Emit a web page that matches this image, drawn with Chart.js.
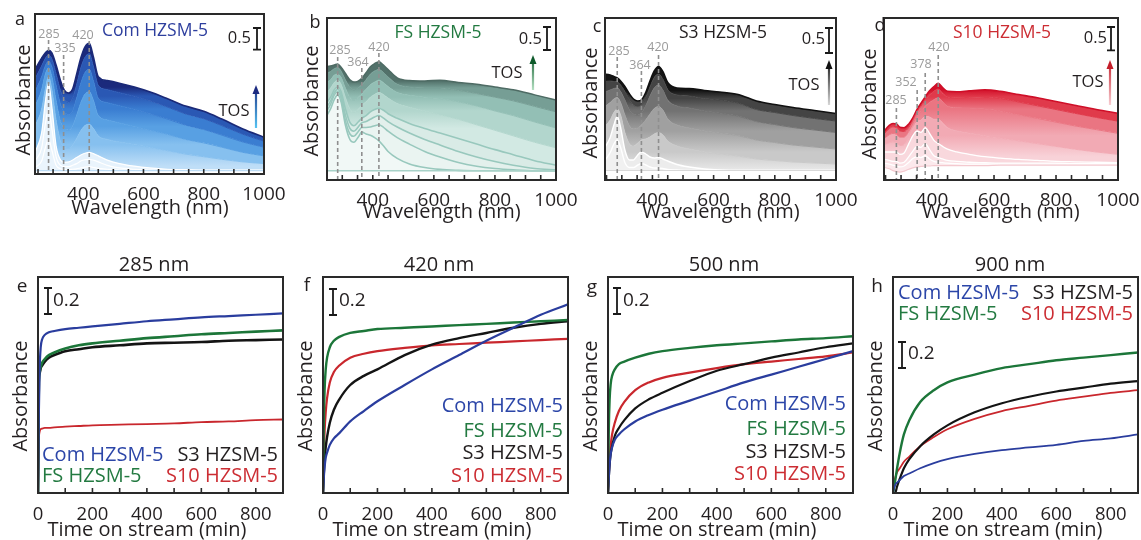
<!DOCTYPE html>
<html><head><meta charset="utf-8">
<script src="https://cdn.jsdelivr.net/npm/chart.js@4.4.1/dist/chart.umd.min.js"></script>
<style>
html,body{margin:0;padding:0;background:#fff;width:1141px;height:540px;overflow:hidden;position:relative}
canvas{position:absolute}
</style></head><body>
<script>
// ---------- DATA ----------
// Wavelength grid (nm) shared by the spectra of panels a-d
const WL = [240, 262, 274, 285, 296, 310, 325, 338, 352, 364, 378, 392, 406, 420, 434, 450, 480, 520, 570, 620, 680, 740, 800, 860, 930, 1000];
const WL_TICKS = [250, 300, 350, 400, 450, 500, 550, 600, 650, 700, 750, 800, 850, 900, 950, 1000];
const WL_LABELS = [400, 600, 800, 1000];

// a: Com HZSM-5 (spectra from early to late TOS)
const A_BASE = [0.08,0.08,0.08,0.08,0.08,0.08,0.08,0.08,0.08,0.08,0.08,0.08,0.08,0.08,0.08,0.08,0.08,0.08,0.08,0.08,0.08,0.08,0.08,0.08,0.08,0.08];
const A_E1 = [0.15,0.3,0.6,0.8,0.55,0.2,0.12,0.1,0.1,0.11,0.12,0.14,0.16,0.17,0.15,0.13,0.11,0.09,0.085,0.08,0.08,0.08,0.08,0.08,0.08,0.08];
const A_E2 = [0.3,0.6,1.15,1.5,1.05,0.4,0.2,0.17,0.17,0.2,0.24,0.3,0.33,0.34,0.32,0.28,0.2,0.14,0.11,0.09,0.085,0.085,0.085,0.085,0.085,0.085];
const A_E3 = [0.5,0.95,1.65,2.1,1.55,0.65,0.32,0.27,0.28,0.32,0.38,0.44,0.48,0.5,0.47,0.42,0.32,0.24,0.18,0.14,0.11,0.1,0.09,0.09,0.09,0.09];
const A_F1 = [1.1,1.5,1.95,2.25,1.95,1.25,0.75,0.62,0.6,0.66,0.82,1.0,1.12,1.15,1.05,0.88,0.8,0.74,0.68,0.62,0.54,0.46,0.4,0.34,0.28,0.24];
const A_F2 = [1.55,1.95,2.3,2.45,2.25,1.7,1.2,1.05,1.02,1.1,1.35,1.65,1.85,1.9,1.7,1.35,1.25,1.18,1.1,1.02,0.92,0.8,0.72,0.62,0.5,0.42];
const A_F3 = [1.9,2.25,2.5,2.6,2.48,2.05,1.6,1.42,1.38,1.45,1.75,2.1,2.35,2.42,2.15,1.75,1.65,1.58,1.5,1.4,1.27,1.13,1.03,0.9,0.74,0.62];
const A_F4 = [2.2,2.5,2.67,2.75,2.66,2.32,1.92,1.72,1.66,1.74,2.06,2.45,2.7,2.78,2.48,2.05,1.95,1.88,1.8,1.7,1.55,1.39,1.28,1.12,0.92,0.76];
const A_TOP = [2.42,2.68,2.8,2.86,2.8,2.52,2.15,1.93,1.87,1.95,2.3,2.68,2.94,3.02,2.7,2.25,2.16,2.1,2.01,1.9,1.74,1.57,1.45,1.27,1.04,0.85];

// b: FS HZSM-5
const B_BASE = [0.2,0.2,0.2,0.2,0.2,0.2,0.2,0.2,0.2,0.2,0.2,0.2,0.2,0.2,0.2,0.2,0.2,0.2,0.2,0.2,0.2,0.2,0.2,0.2,0.2,0.2];
const B_L1 = [1.3,1.55,1.75,1.85,1.7,1.2,0.88,0.82,0.93,1.04,1.0,0.97,0.92,0.85,0.75,0.62,0.47,0.35,0.27,0.23,0.21,0.2,0.2,0.2,0.2,0.2];
const B_L2 = [1.4,1.65,1.85,1.92,1.78,1.3,1.0,0.95,1.05,1.14,1.14,1.15,1.18,1.2,1.15,1.06,0.92,0.78,0.62,0.5,0.38,0.3,0.25,0.22,0.2,0.2];
const B_L3 = [1.5,1.72,1.9,1.97,1.85,1.42,1.12,1.06,1.15,1.24,1.27,1.32,1.37,1.4,1.35,1.27,1.15,1.02,0.88,0.76,0.62,0.5,0.4,0.32,0.25,0.22];
const B_L4 = [1.6,1.8,1.96,2.02,1.92,1.55,1.25,1.18,1.26,1.34,1.4,1.48,1.53,1.56,1.52,1.44,1.34,1.23,1.12,1.02,0.9,0.78,0.66,0.55,0.42,0.32];
const B_F1 = [1.85,2.0,2.12,2.17,2.08,1.8,1.55,1.48,1.54,1.62,1.7,1.8,1.86,1.9,1.86,1.78,1.66,1.58,1.5,1.42,1.32,1.2,1.08,0.96,0.82,0.7];
const B_F2 = [2.1,2.18,2.28,2.3,2.23,2.0,1.8,1.74,1.8,1.87,1.97,2.07,2.13,2.17,2.12,2.03,1.9,1.84,1.8,1.77,1.7,1.61,1.5,1.4,1.26,1.13];
const B_F3 = [2.3,2.36,2.42,2.44,2.37,2.18,2.02,1.96,2.0,2.07,2.18,2.3,2.37,2.4,2.34,2.24,2.08,2.02,2.0,2.0,1.95,1.88,1.8,1.72,1.6,1.48];
const B_TOP = [2.46,2.48,2.5,2.52,2.45,2.32,2.18,2.13,2.15,2.21,2.33,2.46,2.53,2.57,2.5,2.4,2.22,2.16,2.15,2.17,2.12,2.08,2.02,1.96,1.85,1.74];

// c: S3 HZSM-5
const C_BASE = [0.19,0.19,0.19,0.19,0.19,0.19,0.19,0.19,0.19,0.19,0.19,0.19,0.19,0.19,0.19,0.19,0.19,0.19,0.19,0.19,0.19,0.19,0.19,0.19,0.19,0.19];
const C_E1 = [0.35,0.55,0.72,0.8,0.65,0.35,0.25,0.25,0.3,0.33,0.3,0.26,0.24,0.24,0.23,0.21,0.2,0.19,0.19,0.19,0.19,0.19,0.19,0.19,0.19,0.19];
const C_E2 = [0.6,0.85,1.1,1.27,1.05,0.6,0.4,0.4,0.5,0.56,0.52,0.46,0.44,0.45,0.42,0.38,0.31,0.26,0.22,0.2,0.19,0.19,0.19,0.19,0.19,0.19];
const C_F1 = [1.05,1.2,1.35,1.42,1.3,0.95,0.72,0.68,0.74,0.8,0.82,0.86,0.92,0.95,0.9,0.78,0.68,0.62,0.56,0.52,0.48,0.42,0.39,0.36,0.34,0.32];
const C_F2 = [1.45,1.55,1.62,1.65,1.55,1.3,1.08,1.02,1.04,1.1,1.2,1.32,1.43,1.47,1.4,1.22,1.1,1.04,0.98,0.94,0.89,0.8,0.75,0.7,0.66,0.62];
const C_F3 = [1.75,1.8,1.83,1.84,1.77,1.6,1.4,1.32,1.3,1.34,1.48,1.68,1.84,1.9,1.8,1.6,1.48,1.44,1.38,1.34,1.28,1.17,1.11,1.05,1.0,0.95];
const C_F4 = [1.97,1.98,1.97,1.96,1.9,1.77,1.6,1.5,1.47,1.5,1.64,1.86,2.05,2.12,2.02,1.81,1.7,1.68,1.63,1.6,1.54,1.41,1.35,1.29,1.23,1.18];
const C_TOP = [2.12,2.1,2.07,2.04,1.98,1.87,1.72,1.62,1.58,1.6,1.75,1.98,2.18,2.27,2.17,1.95,1.84,1.83,1.79,1.76,1.71,1.58,1.51,1.45,1.39,1.33];

// d: S10 HZSM-5
const D_BASE = [0.28,0.24,0.2,0.18,0.17,0.19,0.23,0.26,0.28,0.29,0.3,0.3,0.31,0.31,0.31,0.31,0.31,0.31,0.31,0.32,0.32,0.32,0.32,0.32,0.32,0.32];
const D_E1 = [0.36,0.34,0.32,0.3,0.28,0.3,0.38,0.46,0.5,0.48,0.52,0.45,0.4,0.38,0.37,0.36,0.35,0.34,0.34,0.34,0.34,0.34,0.34,0.34,0.34,0.34];
const D_E2 = [0.45,0.42,0.4,0.4,0.36,0.38,0.5,0.62,0.72,0.7,0.78,0.65,0.52,0.48,0.45,0.42,0.4,0.38,0.37,0.36,0.36,0.36,0.36,0.35,0.35,0.35];
const D_E3 = [0.6,0.6,0.6,0.6,0.55,0.58,0.78,0.95,1.05,1.02,1.12,1.0,0.85,0.78,0.72,0.66,0.6,0.55,0.5,0.47,0.44,0.42,0.4,0.39,0.38,0.37];
const D_F1 = [0.75,0.8,0.82,0.8,0.74,0.76,0.92,1.1,1.25,1.28,1.36,1.35,1.3,1.3,1.22,1.12,1.05,1.0,0.95,0.9,0.84,0.78,0.72,0.66,0.6,0.55];
const D_F2 = [0.86,0.97,1.0,0.98,0.92,0.92,1.04,1.2,1.38,1.47,1.58,1.66,1.72,1.76,1.68,1.58,1.55,1.54,1.52,1.48,1.4,1.32,1.24,1.16,1.08,1.0];
const D_F3 = [0.95,1.1,1.14,1.12,1.05,1.04,1.13,1.28,1.47,1.58,1.71,1.82,1.9,1.95,1.86,1.78,1.76,1.77,1.78,1.75,1.67,1.59,1.51,1.43,1.34,1.26];
const D_TOP = [1.0,1.17,1.21,1.2,1.13,1.12,1.2,1.33,1.52,1.64,1.78,1.91,2.0,2.07,1.98,1.9,1.89,1.91,1.93,1.9,1.83,1.76,1.68,1.6,1.51,1.43];

// Time on stream (min) for panels e-h
const TOS = [0, 3, 6, 10, 15, 25, 40, 60, 100, 150, 200, 300, 400, 500, 600, 700, 800, 900];
const TOS_TICKS = [100, 200, 300, 400, 500, 600, 700, 800];
const TOS_LABELS = [0, 200, 400, 600, 800];
const SAMPLES = ['Com HZSM-5', 'FS HZSM-5', 'S3 HZSM-5', 'S10 HZSM-5'];

// e: 285 nm
const E_COM = [0,0.6,0.95,1.12,1.18,1.215,1.235,1.245,1.26,1.27,1.28,1.3,1.32,1.335,1.35,1.36,1.37,1.38];
const E_FS  = [0,0.85,0.93,0.97,1.0,1.03,1.06,1.08,1.11,1.135,1.15,1.17,1.19,1.205,1.22,1.23,1.24,1.25];
const E_S3  = [0,0.86,0.92,0.96,0.98,1.01,1.04,1.06,1.09,1.105,1.12,1.135,1.15,1.155,1.16,1.17,1.175,1.18];
const E_S10 = [0,0.4,0.47,0.49,0.495,0.5,0.5,0.505,0.51,0.515,0.52,0.525,0.53,0.535,0.545,0.55,0.56,0.565];
// f: 420 nm
const F_COM = [0,0.12,0.2,0.27,0.31,0.37,0.42,0.46,0.55,0.63,0.705,0.83,0.95,1.06,1.17,1.27,1.37,1.45];
const F_FS  = [0,0.55,0.8,0.95,1.04,1.12,1.17,1.2,1.23,1.245,1.26,1.27,1.28,1.29,1.3,1.31,1.32,1.33];
const F_S3  = [0,0.15,0.26,0.35,0.43,0.54,0.64,0.72,0.83,0.9,0.95,1.06,1.14,1.19,1.23,1.27,1.3,1.32];
const F_S10 = [0,0.3,0.48,0.62,0.73,0.85,0.93,0.98,1.04,1.07,1.09,1.115,1.135,1.145,1.155,1.165,1.175,1.185];
// g: 500 nm
const G_COM = [0,0.12,0.22,0.3,0.35,0.41,0.45,0.49,0.55,0.6,0.64,0.71,0.78,0.85,0.91,0.97,1.03,1.09];
const G_FS  = [0,0.5,0.72,0.84,0.9,0.95,0.99,1.01,1.04,1.07,1.09,1.115,1.135,1.15,1.165,1.18,1.19,1.205];
const G_S3  = [0,0.12,0.22,0.3,0.36,0.44,0.5,0.56,0.65,0.72,0.77,0.86,0.94,0.99,1.04,1.08,1.12,1.15];
const G_S10 = [0,0.15,0.27,0.37,0.45,0.54,0.63,0.7,0.79,0.85,0.885,0.925,0.96,0.99,1.01,1.03,1.05,1.08];
// h: 900 nm
const H_COM = [0,0.03,0.05,0.07,0.08,0.1,0.13,0.15,0.19,0.23,0.26,0.3,0.33,0.35,0.37,0.4,0.42,0.45];
const H_FS  = [0,0.03,0.07,0.12,0.19,0.31,0.45,0.56,0.7,0.79,0.85,0.91,0.96,0.99,1.02,1.04,1.06,1.08];
const H_S3  = [0,0,0,0.01,0.05,0.11,0.19,0.26,0.36,0.45,0.52,0.62,0.69,0.74,0.78,0.81,0.84,0.86];
const H_S10 = [0,0.06,0.1,0.13,0.16,0.19,0.24,0.28,0.36,0.43,0.49,0.57,0.63,0.67,0.71,0.74,0.77,0.79];

// ---------- STYLE ----------
const FONT = "'Open Sans', 'Noto Sans', sans-serif";
const INK = '#231f20';
const GRAY = '#9a9a9a';
const C_BLUE = '#2a3d9e', C_GREEN = '#1c7639', C_BLACK = '#141414', C_RED = '#c9272d';
const T_BLUE = '#2c46a8', T_GREEN = '#237a41', T_RED = '#cc2d33';
const M = {l: 45, t: 30, r: 30, b: 60};
const REF = 18; // index in WL (570 nm) used to anchor each band's colour ramp
Chart.defaults.color = INK;
Chart.defaults.font.family = FONT;

function text(ctx, s, x, y, o) {
  ctx.save();
  ctx.font = (o.size || 18) + 'px ' + FONT;
  ctx.fillStyle = o.color || INK;
  ctx.textAlign = o.align || 'center';
  ctx.textBaseline = 'middle';
  ctx.translate(x, y);
  if (o.rot) ctx.rotate(o.rot);
  ctx.fillText(s, 0, 0);
  ctx.restore();
}

function decoPlugin(deco, ox, oy, ticks) {
  return {
    id: 'deco',
    afterDraw(chart) {
      const ctx = chart.ctx, a = chart.chartArea, xs = chart.scales.x, ys = chart.scales.y;
      ctx.save();
      (deco.dashed || []).forEach(d => {
        const px = xs.getPixelForValue(d.nm);
        ctx.beginPath(); ctx.setLineDash([4, 3]); ctx.strokeStyle = '#8f8f8f'; ctx.lineWidth = 1.6;
        ctx.moveTo(px, d.y0 - oy); ctx.lineTo(px, a.bottom); ctx.stroke();
      });
      ctx.setLineDash([]);
      ctx.strokeStyle = '#2a2a2a'; ctx.lineWidth = 2;
      ctx.strokeRect(a.left, a.top, a.right - a.left, a.bottom - a.top);
      ctx.lineWidth = 1.6;
      ticks.forEach(v => {
        const px = xs.getPixelForValue(v);
        ctx.beginPath(); ctx.moveTo(px, a.bottom); ctx.lineTo(px, a.bottom - 5); ctx.stroke();
      });
      if (deco.bar) {
        const b = deco.bar;
        const h = Math.abs(ys.getPixelForValue(0) - ys.getPixelForValue(b.len));
        const x = b.x - ox, y0 = b.y0 - oy;
        ctx.strokeStyle = '#1a1a1a'; ctx.lineWidth = 1.8;
        ctx.beginPath();
        ctx.moveTo(x, y0); ctx.lineTo(x, y0 + h);
        ctx.moveTo(x - 4, y0); ctx.lineTo(x + 4, y0);
        ctx.moveTo(x - 4, y0 + h); ctx.lineTo(x + 4, y0 + h);
        ctx.stroke();
      }
      if (deco.arrow) {
        const r = deco.arrow, x = r.x - ox, y0 = r.y0 - oy, y1 = r.y1 - oy;
        const g = ctx.createLinearGradient(0, y0, 0, y1);
        g.addColorStop(0, r.c0); g.addColorStop(1, r.c1);
        ctx.strokeStyle = g; ctx.lineWidth = 2.2;
        ctx.beginPath(); ctx.moveTo(x, y0); ctx.lineTo(x, y1 + 6); ctx.stroke();
        ctx.fillStyle = r.c1;
        ctx.beginPath(); ctx.moveTo(x, y1); ctx.lineTo(x - 3.5, y1 + 9); ctx.lineTo(x + 3.5, y1 + 9); ctx.closePath(); ctx.fill();
      }
      ctx.restore();
      (deco.texts || []).forEach(t => text(ctx, t.t, t.x - ox, t.y - oy, t));
    }
  };
}

function makePanel(p) {
  const c = document.createElement('canvas');
  const w = p.box.r - p.box.l + M.l + M.r, h = p.box.b - p.box.t + M.t + M.b;
  const ox = p.box.l - M.l, oy = p.box.t - M.t;
  c.width = w; c.height = h;
  c.style.left = ox + 'px'; c.style.top = oy + 'px';
  c.style.width = w + 'px'; c.style.height = h + 'px';
  document.body.appendChild(c);
  new Chart(c, {
    type: 'line',
    data: {datasets: p.datasets},
    options: {
      responsive: false, animation: false, events: [], devicePixelRatio: 1,
      layout: {padding: {left: M.l, top: M.t, right: M.r, bottom: 0}},
      plugins: {legend: {display: false}, tooltip: {enabled: false}},
      elements: {point: {radius: 0}},
      scales: {
        x: {
          type: 'linear', min: p.xmin, max: p.xmax,
          grid: {display: false}, border: {display: false},
          ticks: {autoSkip: false, maxRotation: 0, padding: p.tickPad, font: {size: p.tickSize, family: FONT}, color: INK,
                  callback: v => String(v)},
          afterBuildTicks: s => { s.ticks = p.labels.map(v => ({value: v})); },
          afterFit: s => { s.height = M.b; s.paddingLeft = 0; s.paddingRight = 0; }
        },
        y: {display: false, min: 0, max: p.ymax}
      }
    },
    plugins: [decoPlugin(p.deco, ox, oy, p.ticks)]
  });
}

// colour ramp between two neighbouring spectra, anchored on their values at WL[REF]
function bandFill(low, high, c0, c1) {
  return (context) => {
    const ch = context.chart;
    if (!ch.chartArea || !ch.scales || !ch.scales.y) return c1;
    const ys = ch.scales.y;
    const y0 = ys.getPixelForValue(low[REF]), y1 = ys.getPixelForValue(high[REF]);
    if (!isFinite(y0) || !isFinite(y1) || Math.abs(y0 - y1) < 1) return c1;
    const g = ch.ctx.createLinearGradient(0, y0, 0, y1);
    g.addColorStop(0, c0); g.addColorStop(1, c1);
    return g;
  };
}

// curves: spectra low->high; fills: flat colours of the early bands; levels: colour at each curve for graded bands
function spectra(curves, fills, levels, lines, widths) {
  return curves.map((arr, i) => {
    let bg = fills[i] || 'rgba(0,0,0,0)';
    if (i > 0 && levels[i] && levels[i - 1]) bg = bandFill(curves[i - 1], arr, levels[i - 1], levels[i]);
    return {
      data: WL.map((w, k) => ({x: w, y: arr[k]})),
      borderColor: lines[i] || levels[i], borderWidth: widths[i],
      backgroundColor: bg,
      fill: i === 0 ? false : '-1',
      cubicInterpolationMode: 'monotone'
    };
  });
}

function series(list) {
  return list.map(s => ({
    data: TOS.map((t, k) => ({x: t, y: s.v[k]})),
    borderColor: s.c, borderWidth: s.w, fill: false,
    cubicInterpolationMode: 'monotone'
  }));
}

const ROT = -Math.PI / 2;

// ---------- TOP PANELS ----------
const topPanels = [
  {
    box: {l: 35, t: 14, r: 264, b: 174}, xmin: 240, ymax: 3.7,
    datasets: spectra(
      [A_BASE, A_E1, A_E2, A_E3, A_F1, A_F2, A_F3, A_F4, A_TOP],
      [null, '#eaf4fc', '#eaf4fc', '#e6f2fc'],
      [null, null, null, '#bfdef7', '#86c0ef', '#58a0e3', '#3a7dd1', '#2a58b4', '#1b2a7c'],
      ['#bcdcf5', '#ffffff', '#ffffff', '#ffffff', null, null, null, null, '#1b2a78'],
      [1.2, 1.2, 1.2, 1.2, 1, 1, 1, 1, 1.6]),
    deco: {
      dashed: [{nm: 285, y0: 40}, {nm: 335, y0: 55}, {nm: 420, y0: 41}],
      bar: {x: 257, y0: 28, len: 0.5},
      arrow: {x: 256, y0: 128, y1: 85, c0: '#56c4f3', c1: '#1b2a80'},
      texts: [
        {t: 'a', x: 20, y: 20, size: 18},
        {t: 'Com HZSM-5', x: 155, y: 31, size: 17.5, color: '#2e3f9e'},
        {t: '0.5', x: 251, y: 38, size: 16.5, align: 'right'},
        {t: 'TOS', x: 234, y: 111, size: 16.5},
        {t: '285', x: 49, y: 34, size: 12.5, color: GRAY},
        {t: '335', x: 65, y: 48, size: 12.5, color: GRAY},
        {t: '420', x: 83, y: 35, size: 12.5, color: GRAY},
        {t: 'Absorbance', x: 24, y: 100, size: 20, rot: ROT},
        {t: 'Wavelength (nm)', x: 150, y: 208, size: 20}
      ]
    }
  },
  {
    box: {l: 327, t: 18, r: 556, b: 180}, xmin: 250, ymax: 3.52,
    datasets: spectra(
      [B_BASE, B_L1, B_L2, B_L3, B_L4, B_F1, B_F2, B_F3, B_TOP],
      [null, '#f1f8f6', '#eaf4f1', '#e3f0ec', '#d9ebe6'],
      [null, null, null, null, '#d2e9e3', '#b2d6cd', '#93bfb5', '#769e95', '#52716a'],
      ['#a8d2c8', '#98c8bd', '#98c8bd', '#98c8bd', '#98c8bd', null, null, null, '#4e6b64'],
      [1.5, 1.6, 1.6, 1.6, 1.6, 1, 1, 1, 1.5]),
    deco: {
      dashed: [{nm: 285, y0: 57}, {nm: 364, y0: 68}, {nm: 420, y0: 53}],
      bar: {x: 547, y0: 27, len: 0.5},
      arrow: {x: 533, y0: 90, y1: 55, c0: '#b4e0c2', c1: '#0e5a2b'},
      texts: [
        {t: 'b', x: 315, y: 23, size: 18},
        {t: 'FS HZSM-5', x: 438, y: 33, size: 17.5, color: T_GREEN},
        {t: '0.5', x: 542, y: 39, size: 16.5, align: 'right'},
        {t: 'TOS', x: 507, y: 73, size: 16.5},
        {t: '285', x: 340, y: 50, size: 12.5, color: GRAY},
        {t: '364', x: 358, y: 62, size: 12.5, color: GRAY},
        {t: '420', x: 379, y: 47, size: 12.5, color: GRAY},
        {t: 'Absorbance', x: 312, y: 101, size: 20, rot: ROT},
        {t: 'Wavelength (nm)', x: 442, y: 212, size: 20}
      ]
    }
  },
  {
    box: {l: 605, t: 18, r: 836, b: 180}, xmin: 245, ymax: 3.24,
    datasets: spectra(
      [C_BASE, C_E1, C_E2, C_F1, C_F2, C_F3, C_F4, C_TOP],
      [null, '#f1f1f1', '#ececec'],
      [null, null, '#e6e6e6', '#c9c9c9', '#a0a0a0', '#727272', '#444444', '#151515'],
      ['#d8d8d8', '#ffffff', '#ffffff', null, null, null, null, '#111111'],
      [1.2, 1.4, 1.4, 1, 1, 1, 1, 1.6]),
    deco: {
      dashed: [{nm: 285, y0: 57}, {nm: 364, y0: 71}, {nm: 420, y0: 55}],
      bar: {x: 829, y0: 28, len: 0.5},
      arrow: {x: 829, y0: 105, y1: 60, c0: '#d6d6d6', c1: '#111111'},
      texts: [
        {t: 'c', x: 597, y: 27, size: 18},
        {t: 'S3 HZSM-5', x: 723, y: 33, size: 17.5, color: INK},
        {t: '0.5', x: 825, y: 39, size: 16.5, align: 'right'},
        {t: 'TOS', x: 804, y: 85, size: 16.5},
        {t: '285', x: 619, y: 51, size: 12.5, color: GRAY},
        {t: '364', x: 640, y: 65, size: 12.5, color: GRAY},
        {t: '420', x: 658, y: 47, size: 12.5, color: GRAY},
        {t: 'Absorbance', x: 591, y: 103, size: 20, rot: ROT},
        {t: 'Wavelength (nm)', x: 721, y: 212, size: 20}
      ]
    }
  },
  {
    box: {l: 884, t: 18, r: 1118, b: 180}, xmin: 245, ymax: 3.47,
    datasets: spectra(
      [D_BASE, D_E1, D_E2, D_E3, D_F1, D_F2, D_F3, D_TOP],
      [null, '#fce9ec', '#fbe2e6', '#f9d8dd'],
      [null, null, null, '#f8d2d8', '#f2aab4', '#ea7582', '#e03a4b', '#d3102a'],
      ['#f4c9cf', '#ffffff', '#ffffff', '#ffffff', null, null, null, '#cf0f28'],
      [1.2, 1.3, 1.3, 1.3, 1, 1, 1, 1.6]),
    deco: {
      dashed: [{nm: 285, y0: 108}, {nm: 352, y0: 90}, {nm: 378, y0: 73}, {nm: 420, y0: 55}],
      bar: {x: 1111, y0: 27, len: 0.5},
      arrow: {x: 1110, y0: 105, y1: 60, c0: '#f8cdd2', c1: '#c41e2a'},
      texts: [
        {t: 'd', x: 880, y: 26, size: 18},
        {t: 'S10 HZSM-5', x: 1002, y: 33, size: 17.5, color: T_RED},
        {t: '0.5', x: 1107, y: 38, size: 16.5, align: 'right'},
        {t: 'TOS', x: 1088, y: 82, size: 16.5},
        {t: '285', x: 896, y: 100, size: 12.5, color: GRAY},
        {t: '352', x: 906, y: 82, size: 12.5, color: GRAY},
        {t: '378', x: 921, y: 64, size: 12.5, color: GRAY},
        {t: '420', x: 939, y: 47, size: 12.5, color: GRAY},
        {t: 'Absorbance', x: 870, y: 104, size: 20, rot: ROT},
        {t: 'Wavelength (nm)', x: 1001, y: 212, size: 20}
      ]
    }
  }
];
topPanels.forEach(p => makePanel(Object.assign({xmax: 1000, labels: WL_LABELS, ticks: WL_TICKS, tickSize: 19, tickPad: 1}, p)));

// ---------- BOTTOM PANELS ----------
function legendCorner(x0, x1, y0, y1) {
  return [
    {t: SAMPLES[0], x: x0, y: y0, size: 20, color: T_BLUE, align: 'left'},
    {t: SAMPLES[2], x: x1, y: y0, size: 20, color: INK, align: 'right'},
    {t: SAMPLES[1], x: x0, y: y1, size: 20, color: T_GREEN, align: 'left'},
    {t: SAMPLES[3], x: x1, y: y1, size: 20, color: T_RED, align: 'right'}
  ];
}
function legendStack(x, ys) {
  return [
    {t: SAMPLES[0], x: x, y: ys[0], size: 20, color: T_BLUE, align: 'right'},
    {t: SAMPLES[1], x: x, y: ys[1], size: 20, color: T_GREEN, align: 'right'},
    {t: SAMPLES[2], x: x, y: ys[2], size: 20, color: INK, align: 'right'},
    {t: SAMPLES[3], x: x, y: ys[3], size: 20, color: T_RED, align: 'right'}
  ];
}
function common(letter, lx, ly, title, cx, yx) {
  return [
    {t: letter, x: lx, y: ly, size: 19},
    {t: title, x: cx, y: 265, size: 20},
    {t: 'Absorbance', x: yx, y: 396, size: 20, rot: ROT},
    {t: 'Time on stream (min)', x: cx - 7, y: 530, size: 20}
  ];
}

const botPanels = [
  {
    box: {l: 38, t: 277, r: 283, b: 493},
    datasets: series([{v: E_COM, c: C_BLUE, w: 2.2}, {v: E_FS, c: C_GREEN, w: 2.6}, {v: E_S3, c: C_BLACK, w: 2.6}, {v: E_S10, c: C_RED, w: 1.8}]),
    deco: {bar: {x: 48, y0: 288, len: 0.2},
      texts: common('e', 22, 287, '285 nm', 154, 21).concat([{t: '0.2', x: 53, y: 301, size: 19, align: 'left'}], legendCorner(42, 278, 455, 476))}
  },
  {
    box: {l: 323, t: 277, r: 568, b: 493},
    datasets: series([{v: F_COM, c: C_BLUE, w: 2.2}, {v: F_FS, c: C_GREEN, w: 2.4}, {v: F_S3, c: C_BLACK, w: 2.4}, {v: F_S10, c: C_RED, w: 2.2}]),
    deco: {bar: {x: 333, y0: 289, len: 0.2},
      texts: common('f', 307, 286, '420 nm', 439, 306).concat([{t: '0.2', x: 339, y: 301, size: 19, align: 'left'}], legendStack(563, [406, 431, 453, 476]))}
  },
  {
    box: {l: 608, t: 277, r: 853, b: 493},
    datasets: series([{v: G_COM, c: C_BLUE, w: 2.2}, {v: G_FS, c: C_GREEN, w: 2.4}, {v: G_S3, c: C_BLACK, w: 2.2}, {v: G_S10, c: C_RED, w: 2.2}]),
    deco: {bar: {x: 617, y0: 288, len: 0.2},
      texts: common('g', 592, 288, '500 nm', 724, 591).concat([{t: '0.2', x: 623, y: 301, size: 19, align: 'left'}], legendStack(846, [404, 429, 452, 474]))}
  },
  {
    box: {l: 893, t: 277, r: 1138, b: 493},
    datasets: series([{v: H_COM, c: C_BLUE, w: 1.8}, {v: H_FS, c: C_GREEN, w: 2.4}, {v: H_S3, c: C_BLACK, w: 2.2}, {v: H_S10, c: C_RED, w: 1.8}]),
    deco: {bar: {x: 902, y0: 342, len: 0.2},
      texts: common('h', 877, 287, '900 nm', 1010, 876).concat([{t: '0.2', x: 908, y: 354, size: 19, align: 'left'}], legendCorner(898, 1133, 293, 314))}
  }
];
botPanels.forEach(p => makePanel(Object.assign({xmin: 0, xmax: 900, ymax: 1.66, labels: TOS_LABELS, ticks: TOS_TICKS, tickSize: 18.5, tickPad: 3}, p)));
</script>
</body></html>
